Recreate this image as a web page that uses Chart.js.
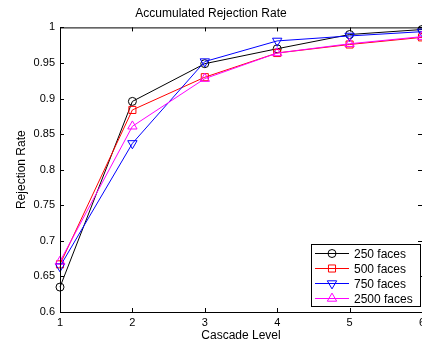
<!DOCTYPE html>
<html>
<head>
<meta charset="utf-8">
<script src="https://cdn.jsdelivr.net/npm/chart.js@4/dist/chart.umd.min.js"></script>
<style>
  html, body { margin: 0; padding: 0; background: #fff; overflow: hidden; }
  #wrap { width: 432px; height: 343px; }
</style>
</head>
<body>
<div id="wrap"><canvas id="chart"></canvas></div>
<script>
// ----- data -----
const LEVELS = [1, 2, 3, 4, 5, 6];
const FACES_250 = [0.635, 0.896, 0.949, 0.970, 0.990, 0.997];
const FACES_500 = [0.667, 0.884, 0.930, 0.964, 0.976, 0.986];
const FACES_750 = [0.664, 0.837, 0.952, 0.981, 0.988, 0.994];
const FACES_2500 = [0.671, 0.861, 0.928, 0.964, 0.977, 0.987];
const SERIES_LABELS = ['250 faces', '500 faces', '750 faces', '2500 faces'];

const FONT = "'Liberation Sans', Arial, Helvetica, sans-serif";

const pts = (vals) => vals.map((v, i) => ({ x: LEVELS[i], y: v }));

function series(label, vals, color, style, radius, rotation, order) {
  return {
    label, data: pts(vals), order,
    borderColor: color, borderWidth: 1,
    pointStyle: style, pointRadius: radius, pointRotation: rotation,
    pointBorderColor: color, pointBackgroundColor: 'rgba(0,0,0,0)', pointBorderWidth: 1,
    pointHoverRadius: radius,
    tension: 0, clip: false
  };
}

// box round the plot with inward ticks, matlab style
const boxPlugin = {
  id: 'box',
  afterDatasetsDraw(chart) {
    const { ctx, chartArea: a, scales } = chart;
    ctx.save();
    ctx.strokeStyle = '#000';
    ctx.lineWidth = 1;
    ctx.strokeRect(a.left + 0.5, a.top + 0.5, a.right - a.left, a.bottom - a.top);
    ctx.beginPath();
    scales.x.ticks.forEach(t => {
      const px = Math.round(scales.x.getPixelForValue(t.value)) + 0.5;
      ctx.moveTo(px, a.bottom); ctx.lineTo(px, a.bottom - 4);
      ctx.moveTo(px, a.top); ctx.lineTo(px, a.top + 4);
    });
    scales.y.ticks.forEach(t => {
      const py = Math.round(scales.y.getPixelForValue(t.value)) + 0.5;
      ctx.moveTo(a.left, py); ctx.lineTo(a.left + 4, py);
      ctx.moveTo(a.right, py); ctx.lineTo(a.right - 4, py);
    });
    ctx.stroke();
    ctx.restore();
  },
  afterDraw(chart) {
    // legend in lower right corner
    const { ctx, chartArea: a } = chart;
    const w = 109, h = 62;
    const right = a.right - 2, bottom = a.bottom - 6;
    const left = right - w, top = bottom - h;
    ctx.save();
    ctx.fillStyle = '#fff';
    ctx.fillRect(left, top, w, h);
    ctx.strokeStyle = '#000';
    ctx.lineWidth = 1;
    ctx.strokeRect(left + 0.5, top + 0.5, w, h);
    ctx.font = '12px ' + FONT;
    ctx.textBaseline = 'middle';
    chart.data.datasets.forEach((ds, i) => {
      const y = Math.round(top + 9 + i * 15.1) + 0.5;
      ctx.strokeStyle = ds.borderColor;
      ctx.beginPath();
      ctx.moveTo(left + 4, y); ctx.lineTo(left + 38, y);
      ctx.stroke();
      ctx.fillStyle = 'rgba(0,0,0,0)';
      Chart.helpers.drawPoint(ctx, {
        pointStyle: ds.pointStyle, radius: ds.pointRadius, rotation: ds.pointRotation, borderWidth: 1
      }, left + 21, y);
      ctx.fillStyle = '#000';
      ctx.fillText(ds.label, left + 43, y + 1);
    });
    ctx.restore();
  }
};

window.addEventListener('DOMContentLoaded', () => {
  const ctx = document.getElementById('chart');
  new Chart(ctx, {
    type: 'line',
    data: {
      datasets: [
        series(SERIES_LABELS[0], FACES_250, '#000000', 'circle', 4, 0, 4),
        series(SERIES_LABELS[1], FACES_500, '#ff0000', 'rect', 5, 0, 3),
        series(SERIES_LABELS[2], FACES_750, '#0000ff', 'triangle', 5.4, 180, 2),
        series(SERIES_LABELS[3], FACES_2500, '#ff00ff', 'triangle', 5.4, 0, 1)
      ]
    },
    options: {
      responsive: true,
      maintainAspectRatio: false,
      animation: false,
      layout: { padding: { left: 0, right: 10, top: 0, bottom: 0 } },
      plugins: {
        legend: { display: false },
        tooltip: { enabled: false },
        title: {
          display: true,
          text: 'Accumulated Rejection Rate',
          color: '#000',
          font: { family: FONT, size: 12, weight: 'normal' },
          padding: { top: 6, bottom: 7 }
        }
      },
      scales: {
        x: {
          type: 'linear', min: 1, max: 6,
          grid: { display: false, drawTicks: false },
          border: { display: false },
          ticks: { stepSize: 1, color: '#000', padding: 4, font: { family: FONT, size: 11 } },
          title: {
            display: true, text: 'Cascade Level', color: '#000',
            font: { family: FONT, size: 12 }, padding: { top: 0, bottom: 0 }
          },
          afterFit: (s) => { s.height = 31; }
        },
        y: {
          min: 0.6, max: 1,
          grid: { display: false, drawTicks: false },
          border: { display: false },
          ticks: {
            stepSize: 0.05, color: '#000', padding: 5, font: { family: FONT, size: 11 },
            callback: (v) => String(+v.toFixed(2))
          },
          title: {
            display: true, text: 'Rejection Rate', color: '#000',
            font: { family: FONT, size: 12 }, padding: { top: 14, bottom: 0 }
          },
          afterFit: (s) => { s.width = 60; }
        }
      }
    },
    plugins: [boxPlugin]
  });
});
</script>
</body>
</html>
